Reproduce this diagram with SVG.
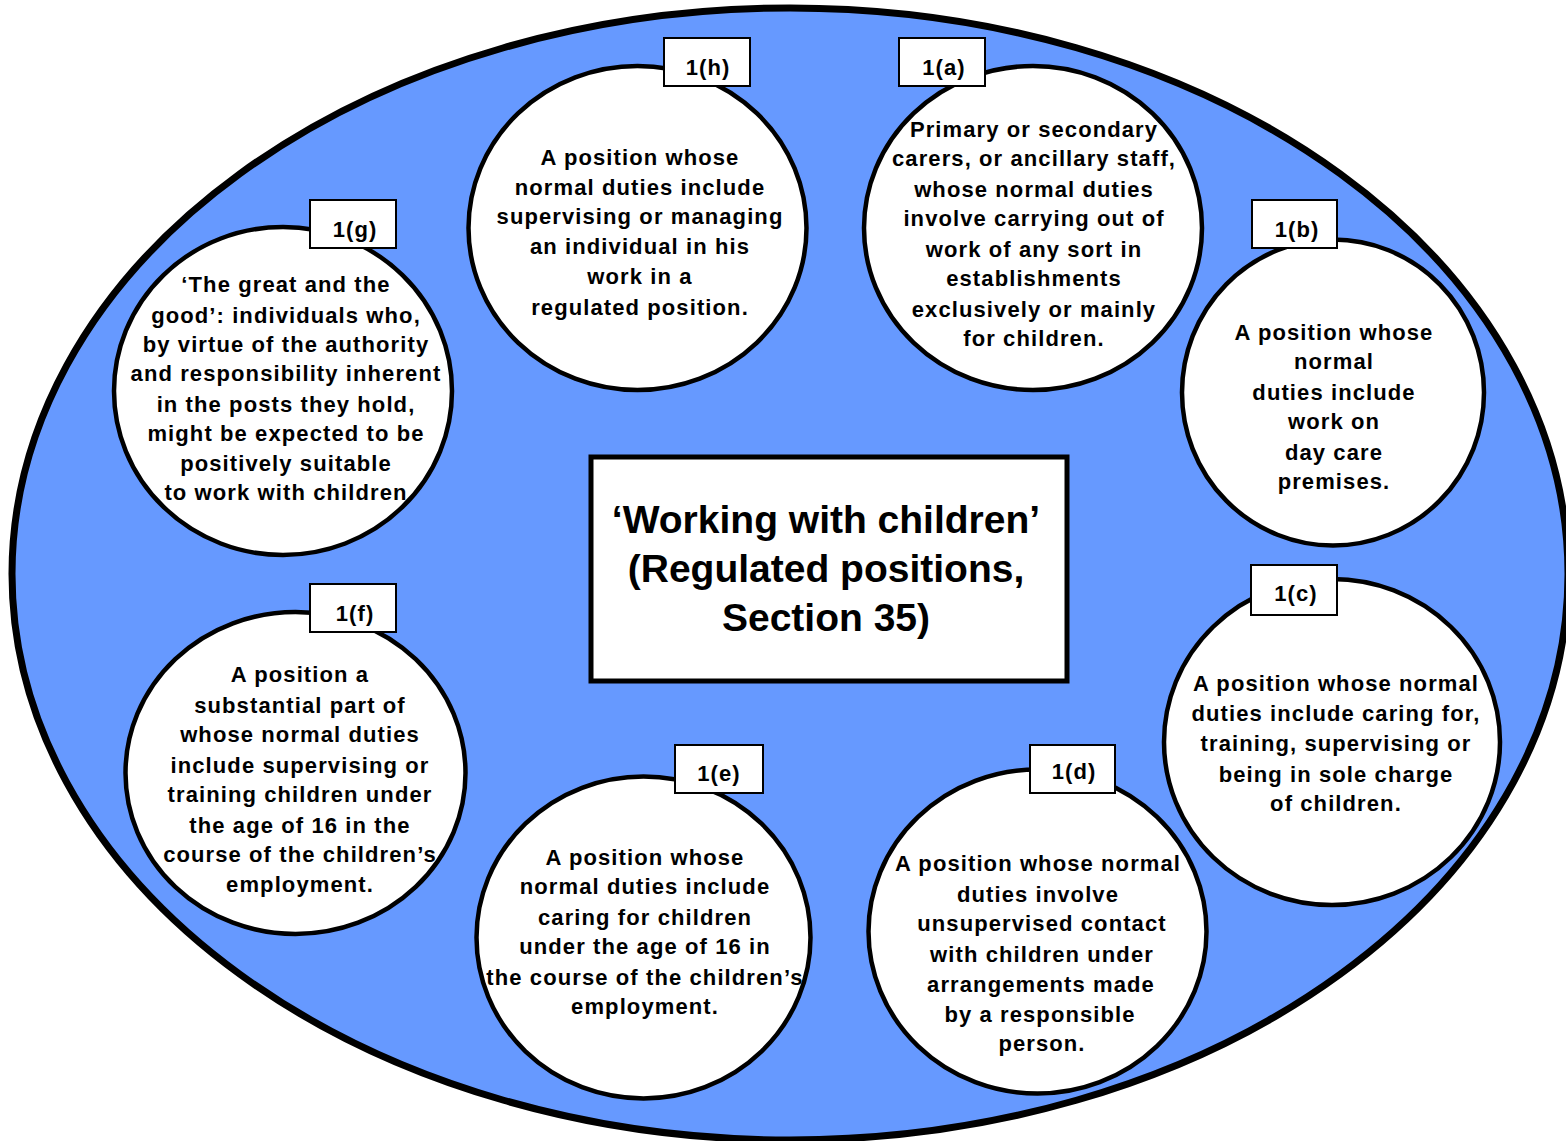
<svg xmlns="http://www.w3.org/2000/svg" width="1566" height="1141" viewBox="0 0 1566 1141">
<style>
.bg{fill:#6699FF;stroke:#000;stroke-width:7}
.node{fill:#fff;stroke:#000;stroke-width:4.5}
.lbl{fill:#fff;stroke:#000;stroke-width:2}
.t{font-family:"Liberation Sans",Arial,sans-serif;font-weight:bold;font-size:22px;letter-spacing:1.1px;text-anchor:middle;fill:#000}
.title{font-family:"Liberation Sans",Arial,sans-serif;font-weight:bold;font-size:39px;text-anchor:middle;fill:#000}
</style>
<rect width="1566" height="1141" fill="#fff"/>
<ellipse class="bg" cx="790" cy="574" rx="778" ry="566"/>
<g id="connectors"/>

<g id="center">
<rect x="591" y="457" width="476" height="224" fill="#fff" stroke="#000" stroke-width="5"/>
<text class="title" x="826" y="533">‘Working with children’</text>
<text class="title" x="826" y="582">(Regulated positions,</text>
<text class="title" x="826" y="631">Section 35)</text>
</g>

<g id="node-1h">
<ellipse class="node" cx="637.5" cy="228" rx="169" ry="162"/>
<rect class="lbl" x="664" y="38" width="86" height="48"/>
<text class="t" x="708" y="75">1(h)</text>
<text class="t"><tspan x="640" y="165">A position whose</tspan><tspan x="640" y="195">normal duties include</tspan><tspan x="640" y="224">supervising or managing</tspan><tspan x="640" y="254">an individual in his</tspan><tspan x="640" y="284">work in a</tspan><tspan x="640" y="315">regulated position.</tspan></text>
</g>

<g id="node-1a">
<ellipse class="node" cx="1033" cy="228" rx="169" ry="162"/>
<rect class="lbl" x="899" y="38" width="86" height="48"/>
<text class="t" x="944" y="75">1(a)</text>
<text class="t"><tspan x="1034" y="137">Primary or secondary</tspan><tspan x="1034" y="166">carers, or ancillary staff,</tspan><tspan x="1034" y="197">whose normal duties</tspan><tspan x="1034" y="226">involve carrying out of</tspan><tspan x="1034" y="257">work of any sort in</tspan><tspan x="1034" y="286">establishments</tspan><tspan x="1034" y="317">exclusively or mainly</tspan><tspan x="1034" y="346">for children.</tspan></text>
</g>

<g id="node-1g">
<ellipse class="node" cx="283" cy="391" rx="169" ry="164"/>
<rect class="lbl" x="310" y="200" width="86" height="48"/>
<text class="t" x="355" y="237">1(g)</text>
<text class="t"><tspan x="286" y="292">‘The great and the</tspan><tspan x="286" y="323">good’: individuals who,</tspan><tspan x="286" y="352">by virtue of the authority</tspan><tspan x="286" y="381">and responsibility inherent</tspan><tspan x="286" y="412">in the posts they hold,</tspan><tspan x="286" y="441">might be expected to be</tspan><tspan x="286" y="471">positively suitable</tspan><tspan x="286" y="500">to work with children</tspan></text>
</g>

<g id="node-1b">
<ellipse class="node" cx="1333" cy="392.5" rx="151" ry="153"/>
<rect class="lbl" x="1252" y="200" width="85" height="48"/>
<text class="t" x="1297" y="237">1(b)</text>
<text class="t"><tspan x="1334" y="340">A position whose</tspan><tspan x="1334" y="369">normal</tspan><tspan x="1334" y="400">duties include</tspan><tspan x="1334" y="429">work on</tspan><tspan x="1334" y="460">day care</tspan><tspan x="1334" y="489">premises.</tspan></text>
</g>

<g id="node-1f">
<ellipse class="node" cx="295.5" cy="773" rx="170" ry="161"/>
<rect class="lbl" x="310" y="584" width="86" height="48"/>
<text class="t" x="355" y="621">1(f)</text>
<text class="t"><tspan x="300" y="682">A position a</tspan><tspan x="300" y="713">substantial part of</tspan><tspan x="300" y="742">whose normal duties</tspan><tspan x="300" y="773">include supervising or</tspan><tspan x="300" y="802">training children under</tspan><tspan x="300" y="833">the age of 16 in the</tspan><tspan x="300" y="862">course of the children’s</tspan><tspan x="300" y="892">employment.</tspan></text>
</g>

<g id="node-1c">
<ellipse class="node" cx="1332" cy="742" rx="168" ry="163"/>
<rect class="lbl" x="1251" y="565" width="86" height="50"/>
<text class="t" x="1296" y="601">1(c)</text>
<text class="t"><tspan x="1336" y="691">A position whose normal</tspan><tspan x="1336" y="721">duties include caring for,</tspan><tspan x="1336" y="751">training, supervising or</tspan><tspan x="1336" y="782">being in sole charge</tspan><tspan x="1336" y="811">of children.</tspan></text>
</g>

<g id="node-1e">
<ellipse class="node" cx="643.5" cy="937.5" rx="167" ry="161"/>
<rect class="lbl" x="675" y="745" width="88" height="48"/>
<text class="t" x="719" y="781">1(e)</text>
<text class="t"><tspan x="645" y="865">A position whose</tspan><tspan x="645" y="894">normal duties include</tspan><tspan x="645" y="925">caring for children</tspan><tspan x="645" y="954">under the age of 16 in</tspan><tspan x="645" y="985">the course of the children’s</tspan><tspan x="645" y="1014">employment.</tspan></text>
</g>

<g id="node-1d">
<ellipse class="node" cx="1037.5" cy="931.5" rx="169" ry="162"/>
<rect class="lbl" x="1030" y="745" width="85" height="48"/>
<text class="t" x="1074" y="779">1(d)</text>
<text class="t"><tspan x="1038" y="871">A position whose normal</tspan><tspan x="1038" y="902">duties involve</tspan><tspan x="1042" y="931">unsupervised contact</tspan><tspan x="1042" y="962">with children under</tspan><tspan x="1041" y="992">arrangements made</tspan><tspan x="1040" y="1022">by a responsible</tspan><tspan x="1042" y="1051">person.</tspan></text>
</g>
</svg>
